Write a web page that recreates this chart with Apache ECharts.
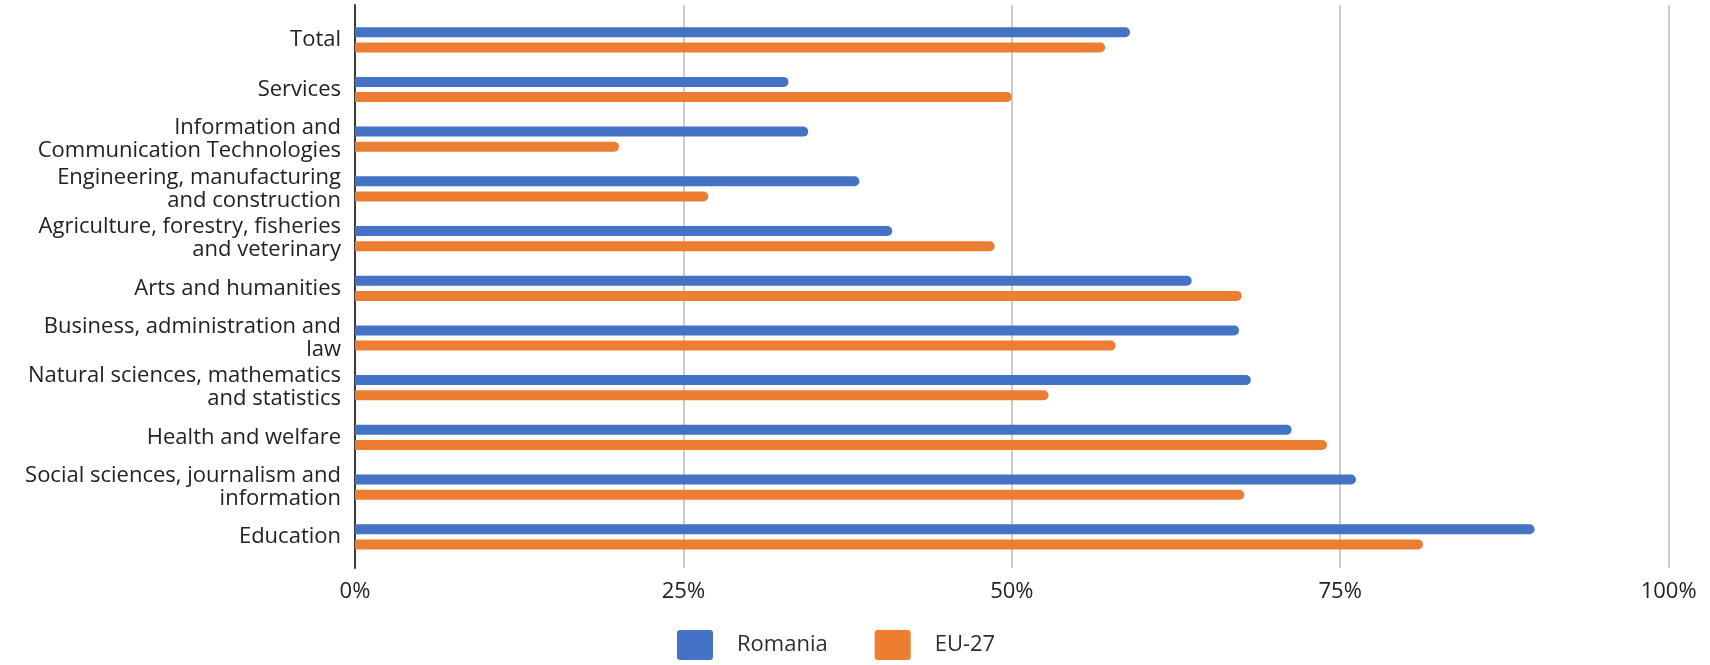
<!DOCTYPE html>
<html>
<head>
<meta charset="utf-8">
<script src="https://cdn.jsdelivr.net/npm/echarts@6/dist/echarts.min.js"></script>
<style>
  html, body { margin: 0; padding: 0; background: #ffffff; }
  #chart { width: 1710px; height: 665px; }
</style>
</head>
<body>
<div id="chart"></div>
<script>
// Fields of study, listed top to bottom
const categories = [
  'Total',
  'Services',
  'Information and\nCommunication Technologies',
  'Engineering, manufacturing\nand construction',
  'Agriculture, forestry, fisheries\nand veterinary',
  'Arts and humanities',
  'Business, administration and\nlaw',
  'Natural sciences, mathematics\nand statistics',
  'Health and welfare',
  'Social sciences, journalism and\ninformation',
  'Education'
];

// Share per field, in percent
const romania = [59.0, 33.0, 34.5, 38.4, 40.9, 63.7, 67.3, 68.2, 71.3, 76.2, 89.8];
const eu27    = [57.1, 50.0, 20.1, 26.9, 48.7, 67.5, 57.9, 52.8, 74.0, 67.7, 81.3];

// Percentage axis ticks
const tickValues = [0, 25, 50, 75, 100];

const FONT = '"Open Sans"';
const TEXT = '#222222';
const BLUE = '#4472C4';
const ORANGE = '#ED7D31';

const legendIcon = 'path://M3,0 H33 Q36,0 36,3 V27 Q36,30 33,30 H3 Q0,30 0,27 V3 Q0,0 3,0 Z';

const chart = echarts.init(document.getElementById('chart'), null, { renderer: 'canvas' });

chart.setOption({
  animation: false,
  backgroundColor: '#ffffff',
  textStyle: { fontFamily: FONT },
  grid: [
    // frame grid: vertical gridlines, baseline and percent labels
    { left: 355, right: 41.4, top: 5, bottom: 97 },
    // bar grid: one band per field
    { left: 355, right: 41.4, top: 14.95, bottom: 103.35 }
  ],
  xAxis: [
    {
      gridIndex: 0,
      type: 'value',
      min: tickValues[0],
      max: tickValues[tickValues.length - 1],
      interval: tickValues[1] - tickValues[0],
      axisLine: { show: false },
      axisTick: { show: false },
      splitLine: { show: true, lineStyle: { color: '#cbcbcb', width: 2 } },
      axisLabel: {
        formatter: '{value}%',
        margin: 13,
        color: TEXT,
        fontFamily: FONT,
        fontSize: 22
      }
    },
    {
      gridIndex: 1,
      type: 'value',
      min: tickValues[0],
      max: tickValues[tickValues.length - 1],
      show: false
    }
  ],
  yAxis: [
    {
      gridIndex: 0,
      type: 'value',
      min: 0,
      max: 1,
      axisLine: { show: true, lineStyle: { color: '#3a3a3a', width: 2 } },
      axisTick: { show: false },
      axisLabel: { show: false },
      splitLine: { show: false }
    },
    {
      gridIndex: 1,
      type: 'category',
      inverse: true,
      data: categories,
      axisLine: { show: false },
      axisTick: { show: false },
      splitLine: { show: false },
      axisLabel: {
        margin: 14,
        color: TEXT,
        fontFamily: FONT,
        fontSize: 22,
        lineHeight: 23,
        align: 'right'
      }
    }
  ],
  legend: {
    left: 672,
    top: 625,
    itemWidth: 36,
    itemHeight: 30,
    itemGap: 47,
    icon: legendIcon,
    textStyle: {
      color: '#2e2e2e',
      fontFamily: FONT,
      fontSize: 22,
      padding: [0, 0, 0, 19]
    },
    data: ['Romania', 'EU-27']
  },
  series: [
    {
      name: 'Romania',
      type: 'bar',
      xAxisIndex: 1,
      yAxisIndex: 1,
      data: romania,
      barWidth: 10,
      barGap: '52%',
      itemStyle: { color: BLUE, borderRadius: [0, 5, 5, 0] }
    },
    {
      name: 'EU-27',
      type: 'bar',
      xAxisIndex: 1,
      yAxisIndex: 1,
      data: eu27,
      barWidth: 10,
      barGap: '52%',
      itemStyle: { color: ORANGE, borderRadius: [0, 5, 5, 0] }
    }
  ]
});
</script>
</body>
</html>
